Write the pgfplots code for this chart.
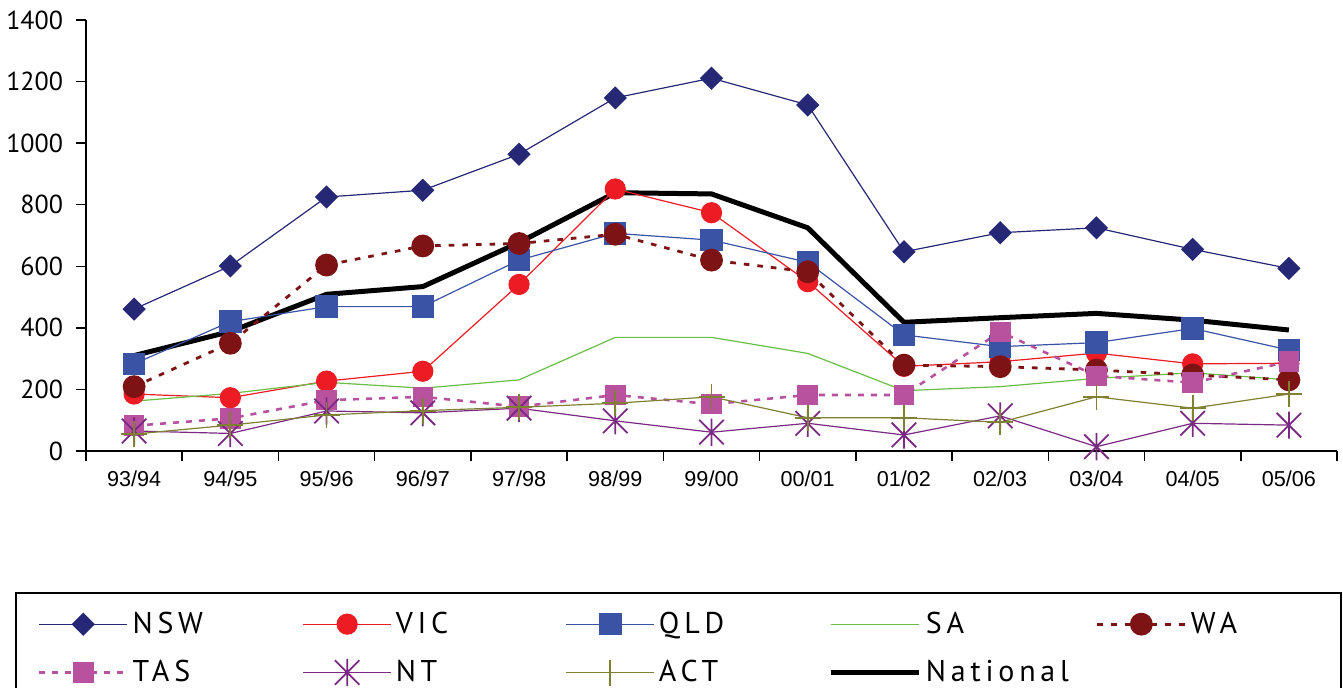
\documentclass[border=0pt]{standalone}
\usepackage{fontspec}
\setmainfont{PT Sans}
\newfontfamily\legfont[LetterSpace=16]{PT Sans}
\newfontfamily\catfont{Liberation Sans}
\usepackage{pgfplots}
\usepackage{pgfplotstable}
\pgfplotsset{compat=1.18}

\definecolor{cNSW}{RGB}{38,40,118}
\definecolor{cVIC}{RGB}{237,28,36}
\definecolor{cQLD}{RGB}{58,83,164}
\definecolor{cSA}{RGB}{106,189,69}
\definecolor{cWA}{RGB}{125,19,21}
\definecolor{cTAS}{RGB}{184,81,158}
\definecolor{cNT}{RGB}{122,42,130}
\definecolor{cACT}{RGB}{128,128,50}

% six-armed star: a vertical stroke crossed by an X
\pgfdeclareplotmark{xstar}{%
  \pgfpathmoveto{\pgfqpoint{0pt}{\pgfplotmarksize}}%
  \pgfpathlineto{\pgfqpoint{0pt}{-\pgfplotmarksize}}%
  \pgfpathmoveto{\pgfqpoint{-.9\pgfplotmarksize}{-.9\pgfplotmarksize}}%
  \pgfpathlineto{\pgfqpoint{.9\pgfplotmarksize}{.9\pgfplotmarksize}}%
  \pgfpathmoveto{\pgfqpoint{-.9\pgfplotmarksize}{.9\pgfplotmarksize}}%
  \pgfpathlineto{\pgfqpoint{.9\pgfplotmarksize}{-.9\pgfplotmarksize}}%
  \pgfusepathqstroke}

% x = financial year index (0 = 93/94 ... 12 = 05/06)
\pgfplotstableread{
x  NSW  VIC  QLD  SA   WA   TAS  NT   ACT  NAT
0  461  185  283  162  209   82   65   55  310
1  601  173  420  187  350  106   57   84  388
2  825  227  469  223  604  165  130  117  509
3  847  259  469  204  666  176  124  131  534
4  964  541  620  231  674  144  139  142  677
5  1147 851  707  369  704  182   98  155  839
6  1211 774  685  369  620  152   61  176  835
7  1124 550  613  317  582  182   90  108  725
8  647  275  377  196  279  182   52  108  418
9  709  290  339  209  274  387  114   93  433
10 725  318  352  236  263  244   14  176  447
11 655  283  398  254  247  222   90  139  425
12 593  285  328  231  231  290   84  185  393
}\data

\begin{document}
\begin{tikzpicture}
\begin{axis}[
  at={(0,0)}, anchor=south west,
  scale only axis, width=625.5pt, height=215.5pt,
  xmin=-0.5, xmax=12.5, ymin=0, ymax=1400,
  axis lines=left,
  axis line style={-, line width=0.75pt},
  xtick={-0.5,0.5,...,12.5}, xticklabels={},
  extra x ticks={0,...,12},
  extra x tick labels={93/94,94/95,95/96,96/97,97/98,98/99,99/00,00/01,01/02,02/03,03/04,04/05,05/06},
  extra x tick style={major tick length=0pt},
  ytick={0,200,...,1400},
  tick align=outside, major tick length=5pt,
  every tick/.style={black, line width=0.75pt},
  /pgf/number format/assume math mode=true,
  /pgf/number format/1000 sep={},
  yticklabel style={font=\fontsize{13}{15}\selectfont, xshift=-3pt},
  xticklabel style={font=\catfont\fontsize{10.8}{12}\selectfont, yshift=-6.5pt},
  legend columns=5,
  legend style={at={(-0.0568,-0.3271)}, anchor=north west,
    draw=black, line width=1pt, inner xsep=11pt, inner ysep=7.5pt,
    font=\legfont\fontsize{15}{17}\selectfont,
    cells={anchor=west}, row sep=8pt,
    /tikz/every even column/.style={column sep=0pt}},
  legend image code/.code={%
    \draw[mark repeat=2,mark phase=2] plot coordinates {(0pt,0pt) (22pt,0pt) (44pt,0pt)};},
]
% national average underneath the state markers
\addplot[black, line width=2.5pt, forget plot] table[x=x,y=NAT]{\data};

\addplot[cNSW, line width=0.6pt, mark=square*, mark size=3.8pt,
  mark options={rotate=45, solid}] table[x=x,y=NSW]{\data};
\addlegendentry{\makebox[83pt][l]{NSW}}
\addplot[cVIC, line width=0.6pt, mark=*, mark size=5pt, mark options={solid}]
  table[x=x,y=VIC]{\data};
\addlegendentry{\makebox[83pt][l]{VIC}}
\addplot[cQLD, line width=0.6pt, mark=square*, mark size=5.3pt, mark options={solid}]
  table[x=x,y=QLD]{\data};
\addlegendentry{\makebox[83pt][l]{QLD}}
\addplot[cSA, line width=0.6pt] table[x=x,y=SA]{\data};
\addlegendentry{\makebox[83pt][l]{SA}}
\addplot[cWA, line width=1.4pt, dash pattern=on 2.8pt off 4pt, mark=*, mark size=5pt,
  mark options={solid}] table[x=x,y=WA]{\data};
\addlegendentry{\makebox[62pt][l]{WA}}
\addplot[cTAS, line width=1.3pt, dash pattern=on 3pt off 3.5pt, mark=square*, mark size=4.5pt,
  mark options={solid}] table[x=x,y=TAS]{\data};
\addlegendentry{\makebox[83pt][l]{TAS}}
\addplot[cNT, line width=0.6pt, mark=xstar, mark size=6.8pt,
  mark options={solid, line width=0.9pt}] table[x=x,y=NT]{\data};
\addlegendentry{\makebox[83pt][l]{NT}}
\addplot[cACT, line width=0.6pt, mark=+, mark size=6.5pt,
  mark options={solid, line width=0.9pt}] table[x=x,y=ACT]{\data};
\addlegendentry{\makebox[83pt][l]{ACT}}
\addlegendimage{black, line width=2.5pt}
\addlegendentry{\makebox[83pt][l]{National}}
\end{axis}
\pgfresetboundingbox
\useasboundingbox (-43pt,-118.5pt) rectangle (628.5pt,225.5pt);
\end{tikzpicture}
\end{document}
